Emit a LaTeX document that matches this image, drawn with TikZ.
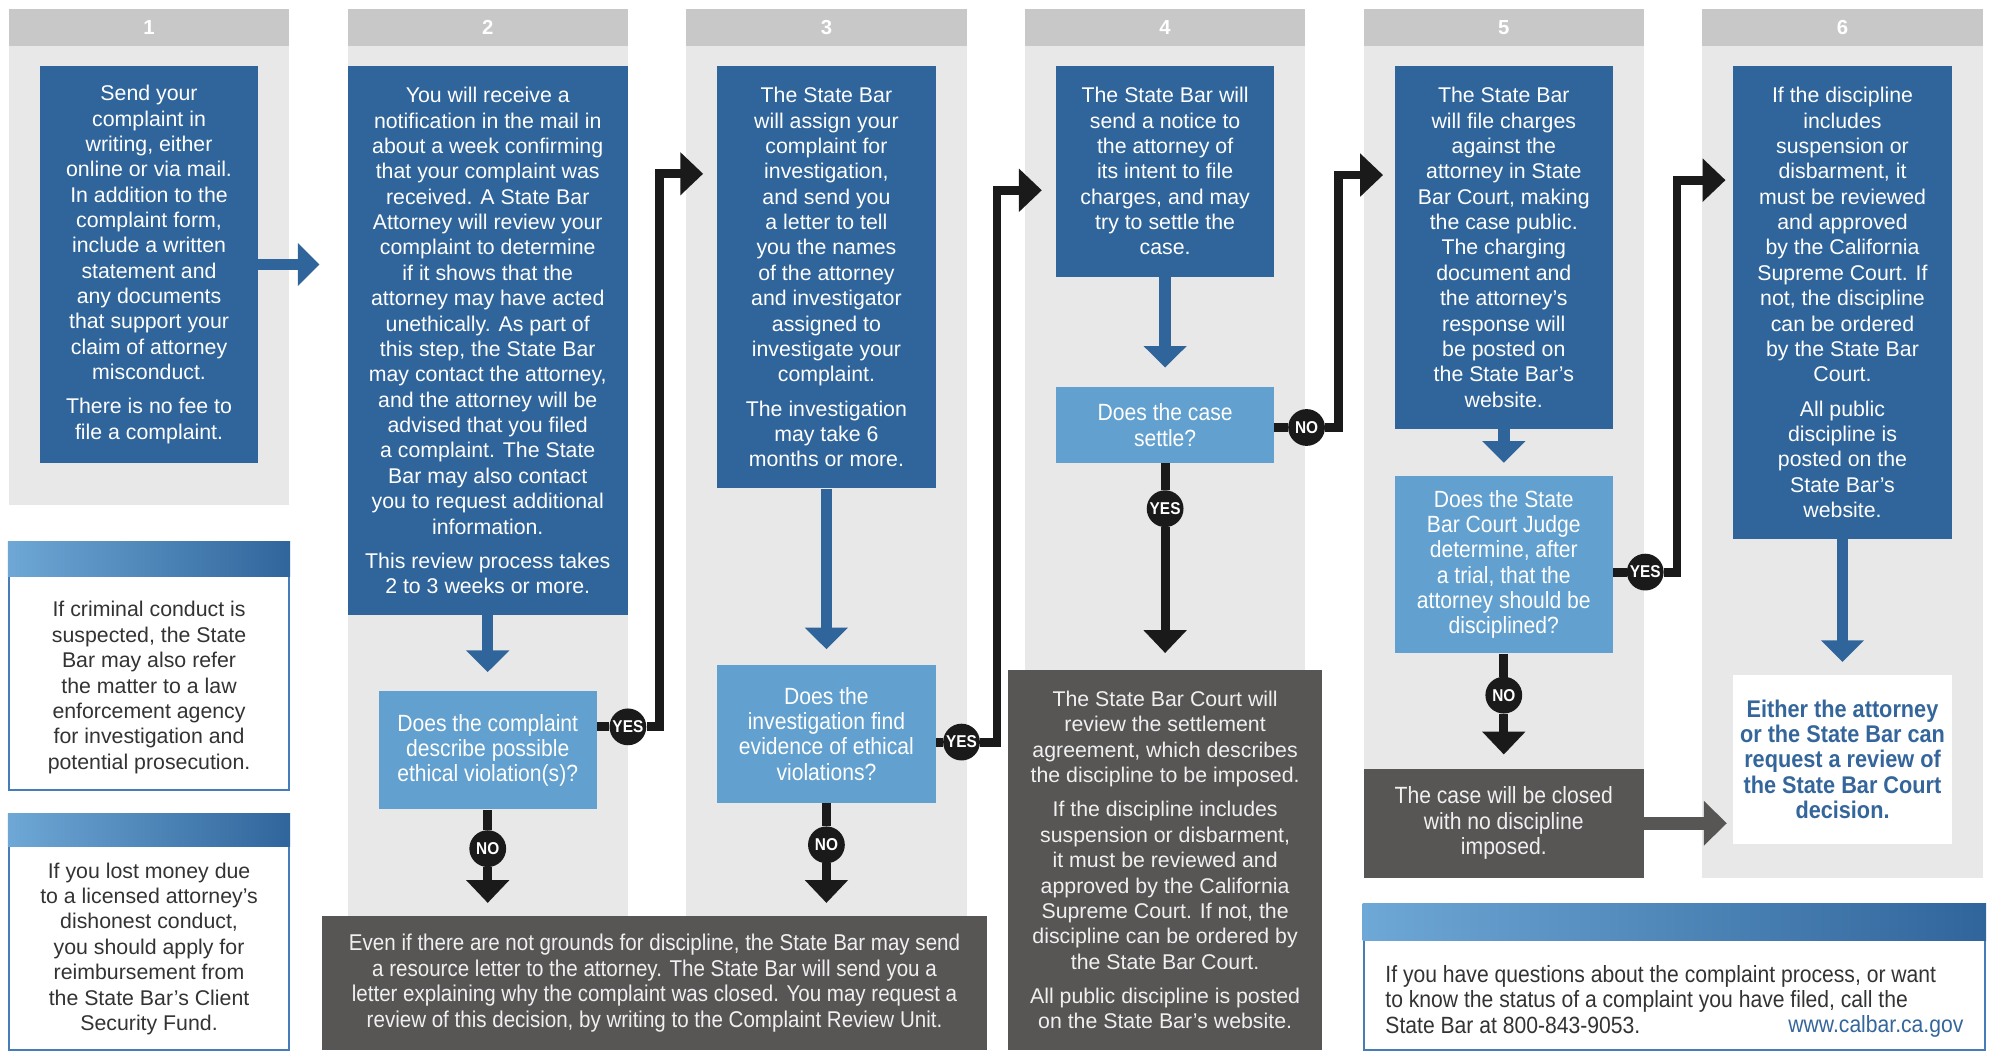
\documentclass[tikz,border=0pt]{standalone}
\usepackage{fontspec}
\setmainfont{Liberation Sans}
\newfontfamily\condfont[FakeStretch=0.9]{Liberation Sans}
\usetikzlibrary{arrows.meta,positioning}

\definecolor{colbg}{RGB}{232,232,232}
\definecolor{colhead}{RGB}{200,200,200}
\definecolor{stepblue}{RGB}{48,101,155}
\definecolor{askblue}{RGB}{97,160,207}
\definecolor{closegray}{RGB}{88,85,85}
\definecolor{linkblack}{RGB}{26,26,26}
\definecolor{noteedge}{RGB}{70,125,185}
\definecolor{notelight}{RGB}{110,168,214}
\definecolor{notetext}{RGB}{51,51,51}
\definecolor{linkblue}{RGB}{52,102,155}

\tikzset{
  txt/.style={align=center, inner sep=0pt, font=\fontsize{16.8}{20}\selectfont},
  stepbox/.style={txt, fill=stepblue, text=white},
  askbox/.style={txt, fill=askblue, text=white, font=\condfont\fontsize{18.5}{20}\selectfont},
  closebox/.style={txt, fill=closegray, text=white!94!black},
  notebox/.style={draw=noteedge, line width=1.5pt, fill=white},
  notehead/.style={left color=notelight, right color=stepblue},
  headnum/.style={text=white, font=\bfseries\fontsize{16}{16}\selectfont},
  yesno/.style={circle, fill=linkblack, text=white, minimum size=29pt, inner sep=0pt,
    font=\condfont\bfseries\fontsize{13.5}{14}\selectfont},
  bluearrow/.style={draw=stepblue, line width=9pt, -{Triangle[width=33pt,length=17pt]}},
  blackline/.style={draw=linkblack, line width=7pt},
  blackarrow/.style={blackline, line join=miter, -{Triangle[width=33pt,length=18pt]}},
  grayarrow/.style={draw=closegray, line width=10pt, -{Triangle[width=34pt,length=18pt]}}
}

\begin{document}
\begin{tikzpicture}[x=1pt,y=-1pt]
	\useasboundingbox (0,0) rectangle (1568,828);
	\fill[white] (0,0) rectangle (1568,828);

	% columns with their numbers
	\foreach \n/\x/\b in {1/7/398,2/274/722,3/541/722,4/808/528,5/1075/606,6/1342/692}{
		\fill[colbg] (\x,7) rectangle (\x+221,\b);
		\fill[colhead] (\x,7) rectangle (\x+221,36);
		\node[headnum] (head\n) at (\x+110.5,22) {\n};
	}

	% steps
	\node[stepbox, minimum width=172pt, minimum height=313pt] (box1) at (117.5,208.5)
		{Send your\\complaint in\\writing, either\\online or via mail.\\In addition to the\\complaint form,\\include a written\\statement and\\any documents\\that support your\\claim of attorney\\misconduct.\\[7pt]There is no fee to\\file a complaint.};
	\node[stepbox, minimum width=221pt, minimum height=433pt] (box2) at (384.5,268.5)
		{You will receive a\\notification in the mail in\\about a week confirming\\that your complaint was\\received. A State Bar\\Attorney will review your\\complaint to determine\\if it shows that the\\attorney may have acted\\unethically. As part of\\this step, the State Bar\\may contact the attorney,\\and the attorney will be\\advised that you filed\\a complaint. The State\\Bar may also contact\\you to request additional\\information.\\[7pt]This review process takes\\2 to 3 weeks or more.};
	\node[stepbox, minimum width=172pt, minimum height=333pt] (box3) at (651.5,218.5)
		{The State Bar\\will assign your\\complaint for\\investigation,\\and send you\\a letter to tell\\you the names\\of the attorney\\and investigator\\assigned to\\investigate your\\complaint.\\[7pt]The investigation\\may take 6\\months or more.};
	\node[stepbox, minimum width=172pt, minimum height=166pt] (box4) at (918.5,135)
		{The State Bar will\\send a notice to\\the attorney of\\its intent to file\\charges, and may\\try to settle the\\case.};
	\node[stepbox, minimum width=172pt, minimum height=286pt] (box5) at (1185.5,195)
		{The State Bar\\will file charges\\against the\\attorney in State\\Bar Court, making\\the case public.\\The charging\\document and\\the attorney’s\\response will\\be posted on\\the State Bar’s\\website.};
	\node[stepbox, minimum width=172pt, minimum height=373pt] (box6) at (1452.5,238.5)
		{If the discipline\\includes\\suspension or\\disbarment, it\\must be reviewed\\and approved\\by the California\\Supreme Court. If\\not, the discipline\\can be ordered\\by the State Bar\\Court.\\[7pt]All public\\discipline is\\posted on the\\State Bar’s\\website.};

	% questions
	\node[askbox, minimum width=172pt, minimum height=93pt] (q2) at (384.5,591.5)
		{Does the complaint\\describe possible\\ethical violation(s)?};
	\node[askbox, minimum width=172pt, minimum height=109pt] (q3) at (651.5,578.5)
		{Does the\\investigation find\\evidence of ethical\\violations?};
	\node[askbox, minimum width=172pt, minimum height=60pt] (q4) at (918.5,335)
		{Does the case\\settle?};
	\node[askbox, minimum width=172pt, minimum height=140pt] (q5) at (1185.5,445)
		{Does the State\\Bar Court Judge\\determine, after\\a trial, that the\\attorney should be\\disciplined?};

	% outcomes
	\node[closebox, font=\condfont\fontsize{18}{20}\selectfont, minimum width=524pt, minimum height=106pt] (dark1) at (516,775)
		{Even if there are not grounds for discipline, the State Bar may send\\a resource letter to the attorney. The State Bar will send you a\\letter explaining why the complaint was closed. You may request a\\review of this decision, by writing to the Complaint Review Unit.};
	\node[closebox, minimum width=247pt, minimum height=300pt] (dark4) at (918.5,678)
		{The State Bar Court will\\review the settlement\\agreement, which describes\\the discipline to be imposed.\\[7pt]If the discipline includes\\suspension or disbarment,\\it must be reviewed and\\approved by the California\\Supreme Court. If not, the\\discipline can be ordered by\\the State Bar Court.\\[7pt]All public discipline is posted\\on the State Bar’s website.};
	\node[closebox, font=\condfont\fontsize{18.5}{20}\selectfont, minimum width=221pt, minimum height=86pt] (dark5) at (1185.5,649)
		{The case will be closed\\with no discipline\\imposed.};
	\node[txt, fill=white, text=linkblue, font=\condfont\bfseries\fontsize{19}{20}\selectfont, minimum width=172pt, minimum height=133pt] (white6) at (1452.5,598.5)
		{Either the attorney\\or the State Bar can\\request a review of\\the State Bar Court\\decision.};

	% side notes
	\node[notebox, minimum width=221pt, minimum height=195pt] (crime) at (117.5,525.5) {};
	\shade[notehead] (crime.north west) rectangle ([yshift=-27pt]crime.north east);
	\node[txt, text=notetext] (crimetxt) at (117.5,542)
		{If criminal conduct is\\suspected, the State\\Bar may also refer\\the matter to a law\\enforcement agency\\for investigation and\\potential prosecution.};
	\node[notebox, minimum width=221pt, minimum height=186pt] (fund) at (117.5,735) {};
	\shade[notehead] (fund.north west) rectangle ([yshift=-26pt]fund.north east);
	\node[txt, text=notetext] (fundtxt) at (117.5,748)
		{If you lost money due\\to a licensed attorney’s\\dishonest conduct,\\you should apply for\\reimbursement from\\the State Bar’s Client\\Security Fund.};
	\node[notebox, minimum width=490pt, minimum height=115pt] (info) at (1320,770.5) {};
	\shade[notehead] (info.north west) rectangle ([yshift=-29pt]info.north east);
	\node[txt, align=left, anchor=west, text=notetext, font=\condfont\fontsize{18.5}{20}\selectfont] (infotxt) at (1092,788)
		{If you have questions about the complaint process, or want\\to know the status of a complaint you have filed, call the\\State Bar at 800-843-9053.};
	\node[anchor=base east, inner sep=0pt, text=linkblue, font=\condfont\fontsize{18.5}{20}\selectfont] (url) at (1548,814) {www.calbar.ca.gov};

	% yes / no marks
	\node[yesno] (y2) at (495,573) {YES};
	\node[yesno] (n2) at (384.5,669) {NO};
	\node[yesno] (y3) at (758,585) {YES};
	\node[yesno] (n3) at (651.5,666) {NO};
	\node[yesno] (n4) at (1030,337) {NO};
	\node[yesno] (y4) at (918.5,401) {YES};
	\node[yesno] (y5) at (1297,451) {YES};
	\node[yesno] (n5) at (1185.5,548) {NO};
	\coordinate (j2) at (520,137);
	\coordinate (j3) at (786,150);
	\coordinate (j4) at (1055,138);
	\coordinate (j5) at (1322,142);

	% blue and grey arrows
	\draw[bluearrow, shorten >=22pt] (box1.east) -- (box1.east -| box2.west);
	\draw[bluearrow, shorten >=15pt] (box2.south) -- (q2.north);
	\draw[bluearrow, shorten >=12pt] (box3.south) -- (q3.north);
	\draw[bluearrow, shorten >=15pt] (box4.south) -- (q4.north);
	\draw[bluearrow, shorten >=10pt] (box5.south) -- (q5.north);
	\draw[bluearrow, shorten >=10pt] (box6.south) -- (white6.north);
	\draw[grayarrow, shorten >=5pt] (dark5.east) -- (dark5.east -| white6.west);

	% black decision lines
	\draw[blackline] (q2.east |- y2) -- (y2);
	\draw[blackarrow, shorten >=11pt] (y2) -| (j2) -- (j2 -| box3.west);
	\draw[blackline] (q2.south) -- (n2);
	\draw[blackarrow, shorten >=10pt] (n2) -- (n2 |- dark1.north);
	\draw[blackline] (q3.east |- y3) -- (y3);
	\draw[blackarrow, shorten >=11pt] (y3) -| (j3) -- (j3 -| box4.west);
	\draw[blackline] (q3.south) -- (n3);
	\draw[blackarrow, shorten >=10pt] (n3) -- (n3 |- dark1.north);
	\draw[blackline] (q4.east |- n4) -- (n4);
	\draw[blackarrow, shorten >=9pt] (n4) -| (j4) -- (j4 -| box5.west);
	\draw[blackline] (q4.south) -- (y4);
	\draw[blackarrow, shorten >=13pt] (y4) -- (y4 |- dark4.north);
	\draw[blackline] (q5.east |- y5) -- (y5);
	\draw[blackarrow, shorten >=6pt] (y5) -| (j5) -- (j5 -| box6.west);
	\draw[blackline] (q5.south) -- (n5);
	\draw[blackarrow, shorten >=11pt] (n5) -- (n5 |- dark5.north);
\end{tikzpicture}
\end{document}
